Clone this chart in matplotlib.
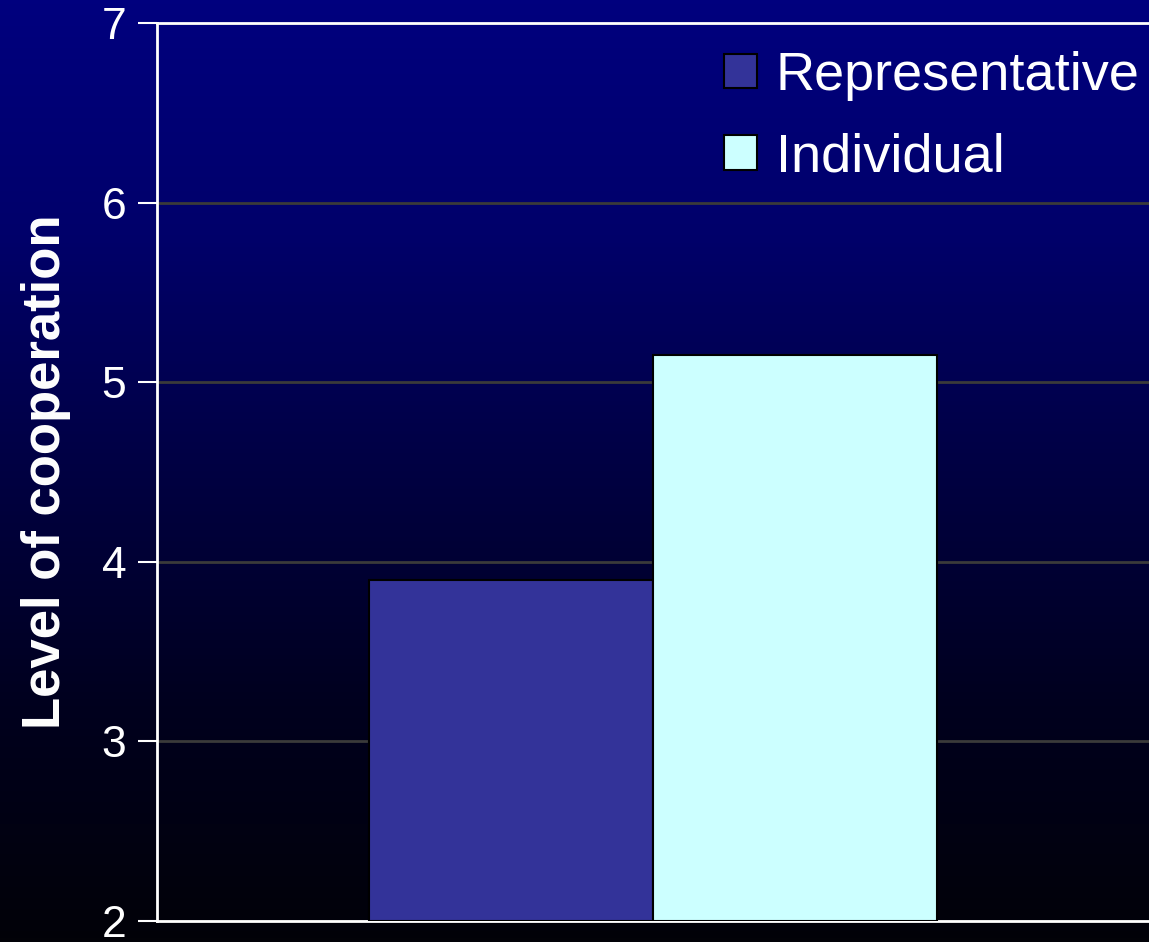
import numpy as np
import matplotlib
matplotlib.use("Agg")
import matplotlib.pyplot as plt
from matplotlib.colors import LinearSegmentedColormap

categories = [""]
series_names = ["Representative", "Individual"]
representative = [3.9]
individual = [5.15]
yticks = [2, 3, 4, 5, 6, 7]
ylabel = "Level of cooperation"

plt.rcParams['font.family'] = ['Liberation Sans', 'DejaVu Sans']

fig = plt.figure(figsize=(11.49, 9.42), dpi=100)

# background gradient
bg = fig.add_axes([0, 0, 1, 1], zorder=0)
bg.set_axis_off()
cmap = LinearSegmentedColormap.from_list(
    "bg", [(0.0, "#00007e"), (0.25, "#00006a"), (0.5, "#000042"),
           (0.75, "#00001e"), (1.0, "#020208")])
grad = np.linspace(0, 1, 256).reshape(-1, 1)
bg.imshow(grad, aspect="auto", cmap=cmap, extent=[0, 1, 0, 1], origin="upper")

W, H = 1149, 942
ax = fig.add_axes([157 / W, 1 - 921 / H, (W - 157) / W, (921 - 23) / H], zorder=1)
ax.patch.set_alpha(0)

x = np.arange(len(categories))
w = 0.286
b1 = ax.bar(x - w / 2, np.array(representative) - 2, w, bottom=2, color="#333399",
            edgecolor="black", linewidth=1.5, label=series_names[0], zorder=3)
b2 = ax.bar(x + w / 2, np.array(individual) - 2, w, bottom=2, color="#ccffff",
            edgecolor="black", linewidth=1.5, label=series_names[1], zorder=3)

ax.set_xlim(-0.5, 0.5)
ax.set_ylim(2, 7)
ax.set_yticks(yticks)
ax.set_xticks([])
ax.yaxis.grid(True, color="#3a3a3a", linewidth=2)
ax.set_axisbelow(True)

ax.spines["right"].set_visible(False)
for s in ["left", "bottom", "top"]:
    ax.spines[s].set_color("white")
    ax.spines[s].set_linewidth(2)

ax.tick_params(axis="y", colors="white", labelsize=32, length=14, width=1.5,
               direction="out", pad=8)
ax.set_ylabel(ylabel, color="white", fontsize=38, fontweight="bold", labelpad=22)

leg = ax.legend(loc="upper left", bbox_to_anchor=(724 / W, 1 - 51 / H),
                bbox_transform=fig.transFigure, frameon=False, fontsize=39,
                handlelength=0.6, handleheight=0.6, handletextpad=0.36,
                labelspacing=0.58, borderpad=0, borderaxespad=0)
for t in leg.get_texts():
    t.set_color("white")

fig.savefig("out.png", dpi=100)
